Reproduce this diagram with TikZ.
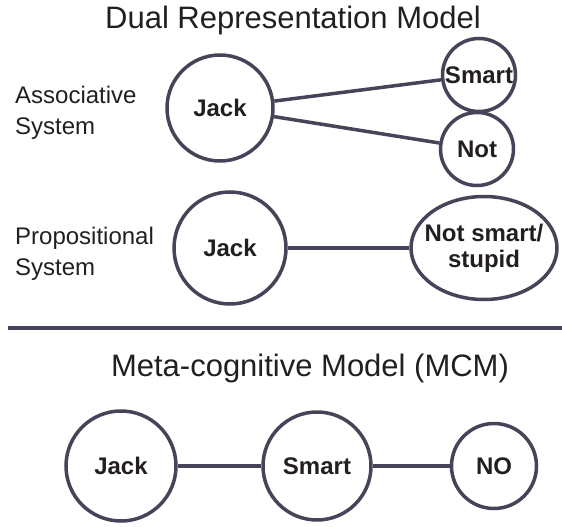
\documentclass[tikz,border=0pt]{standalone}
\usepackage{fontspec}
\setmainfont{Liberation Sans}
\usetikzlibrary{shapes.geometric}
\definecolor{edgecol}{RGB}{70,68,88}
\definecolor{textcol}{RGB}{35,31,32}
\begin{document}
\begin{tikzpicture}[x=1pt,y=-1pt,
		concept/.style={circle,draw=edgecol,line width=3.5pt,inner sep=0pt,text=textcol,font=\fontsize{24}{26}\selectfont\bfseries},
		link/.style={draw=edgecol,line width=3.5pt},
		syslabel/.style={anchor=west,align=left,inner sep=0pt,text=textcol,font=\fontsize{24}{31}\selectfont},
		heading/.style={anchor=base,inner sep=0pt,text=textcol,font=\fontsize{31}{36}\selectfont}]
			\useasboundingbox (0,0) rectangle (562,527);
			% dual representation model
			\node[heading](dualtitle) at (293,29){Dual Representation Model};
			\node[syslabel](assoc) at (15,113){Associative\\System};
			\node[concept,minimum size=106pt](ajack) at (220,108){Jack};
			\node[concept,minimum size=73pt](asmart) at (479,75){Smart};
			\node[concept,minimum size=73pt](anot) at (477,149){Not};
			\draw[link](ajack)--(asmart);
			\draw[link](ajack)--(anot);
			\node[syslabel](prop) at (15,254){Propositional\\System};
			\node[concept,minimum size=112pt](pjack) at (230,248){Jack};
			\node[concept,ellipse,align=center,inner xsep=-8pt,minimum width=146pt,minimum height=103pt](pstupid) at (484,248){Not smart/\\stupid};
			\draw[link](pjack)--(pstupid);
			% separator
			\draw[edgecol,line width=4.5pt](8,328)--(562,328);
			% meta-cognitive model
			\node[heading](mcmtitle) at (310,376){Meta-cognitive Model (MCM)};
			\node[concept,minimum size=110pt](mjack) at (121,466){Jack};
			\node[concept,minimum size=108pt](msmart) at (317,466){Smart};
			\node[concept,minimum size=85pt](mno) at (494,466){NO};
			\draw[link](mjack)--(msmart);
			\draw[link](msmart)--(mno);
		\end{tikzpicture}
\end{document}
